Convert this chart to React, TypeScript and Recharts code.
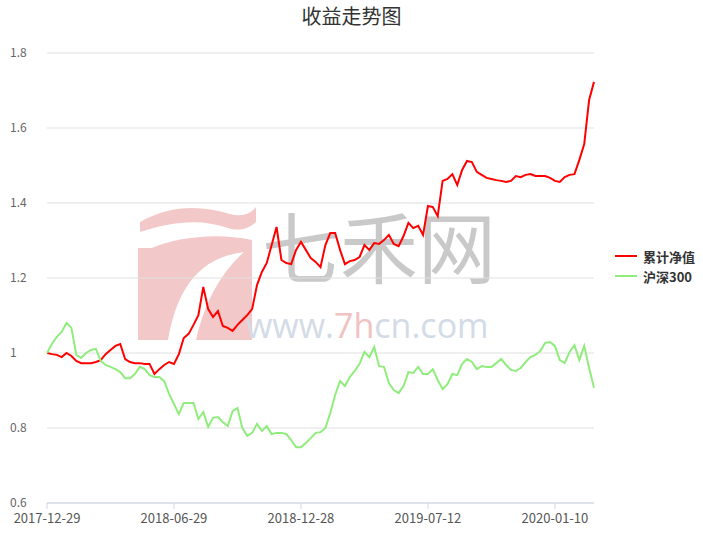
import React from 'react';
import { LineChart, Line, XAxis, YAxis, CartesianGrid } from 'recharts';

const dates = [
  '2017-12-29', '2018-01-05', '2018-01-12', '2018-01-19', '2018-01-26', '2018-02-02', '2018-02-09', '2018-02-14',
  '2018-02-23', '2018-03-02', '2018-03-09', '2018-03-16', '2018-03-23', '2018-03-30', '2018-04-04', '2018-04-13',
  '2018-04-20', '2018-04-27', '2018-05-04', '2018-05-11', '2018-05-18', '2018-05-25', '2018-06-01', '2018-06-08',
  '2018-06-15', '2018-06-22', '2018-06-29', '2018-07-06', '2018-07-13', '2018-07-20', '2018-07-27', '2018-08-03',
  '2018-08-10', '2018-08-17', '2018-08-24', '2018-08-31', '2018-09-07', '2018-09-14', '2018-09-21', '2018-09-28',
  '2018-10-05', '2018-10-12', '2018-10-19', '2018-10-26', '2018-11-02', '2018-11-09', '2018-11-16', '2018-11-23',
  '2018-11-30', '2018-12-07', '2018-12-14', '2018-12-21', '2018-12-28', '2019-01-04', '2019-01-11', '2019-01-18',
  '2019-01-25', '2019-02-01', '2019-02-15', '2019-02-22', '2019-03-01', '2019-03-08', '2019-03-15', '2019-03-22',
  '2019-03-29', '2019-04-04', '2019-04-12', '2019-04-19', '2019-04-26', '2019-05-10', '2019-05-17', '2019-05-24',
  '2019-05-31', '2019-06-06', '2019-06-14', '2019-06-21', '2019-06-28', '2019-07-05', '2019-07-12', '2019-07-19',
  '2019-07-26', '2019-08-02', '2019-08-09', '2019-08-16', '2019-08-23', '2019-08-30', '2019-09-06', '2019-09-12',
  '2019-09-20', '2019-09-27', '2019-09-30', '2019-10-11', '2019-10-18', '2019-10-25', '2019-11-01', '2019-11-08',
  '2019-11-15', '2019-11-22', '2019-11-29', '2019-12-06', '2019-12-13', '2019-12-20', '2019-12-27', '2020-01-03',
  '2020-01-10', '2020-01-17', '2020-01-23', '2020-02-07', '2020-02-14', '2020-02-21', '2020-02-28', '2020-03-06',
  '2020-03-13',
];

// 累计净值
const navValues = [
  1.000, 0.997, 0.995, 0.989, 1.000, 0.992, 0.979, 0.973, 0.973, 0.973, 0.976, 0.981, 0.997, 1.008, 1.019, 1.024,
  0.984, 0.976, 0.973, 0.973, 0.971, 0.971, 0.944, 0.957, 0.968, 0.976, 0.971, 0.997, 1.040, 1.051, 1.075, 1.101,
  1.176, 1.117, 1.096, 1.112, 1.072, 1.067, 1.059, 1.075, 1.088, 1.101, 1.117, 1.181, 1.216, 1.240, 1.288, 1.336,
  1.248, 1.240, 1.237, 1.275, 1.296, 1.275, 1.253, 1.243, 1.229, 1.288, 1.320, 1.320, 1.275, 1.237, 1.245, 1.248,
  1.256, 1.288, 1.275, 1.293, 1.291, 1.301, 1.315, 1.291, 1.285, 1.312, 1.347, 1.333, 1.339, 1.315, 1.392, 1.389,
  1.365, 1.459, 1.464, 1.477, 1.448, 1.488, 1.512, 1.509, 1.483, 1.475, 1.467, 1.464, 1.461, 1.459, 1.456, 1.459,
  1.472, 1.469, 1.475, 1.477, 1.472, 1.472, 1.472, 1.467, 1.459, 1.456, 1.469, 1.475, 1.477, 1.515, 1.557, 1.675,
  1.723,
];

// 沪深300 (normalised)
const hs300Values = [
  1.000, 1.024, 1.043, 1.056, 1.080, 1.067, 0.995, 0.987, 1.000, 1.008, 1.011, 0.979, 0.968, 0.963, 0.957, 0.949,
  0.933, 0.933, 0.944, 0.963, 0.957, 0.941, 0.936, 0.936, 0.925, 0.891, 0.864, 0.837, 0.867, 0.867, 0.867, 0.824,
  0.843, 0.803, 0.827, 0.829, 0.816, 0.805, 0.845, 0.853, 0.800, 0.779, 0.787, 0.811, 0.792, 0.805, 0.784, 0.787,
  0.787, 0.784, 0.768, 0.749, 0.749, 0.760, 0.773, 0.787, 0.789, 0.800, 0.840, 0.888, 0.925, 0.912, 0.936, 0.952,
  0.971, 1.003, 0.989, 1.016, 0.965, 0.963, 0.920, 0.901, 0.893, 0.912, 0.949, 0.947, 0.963, 0.944, 0.944, 0.957,
  0.928, 0.904, 0.917, 0.944, 0.941, 0.971, 0.984, 0.976, 0.957, 0.965, 0.963, 0.963, 0.973, 0.984, 0.968, 0.955,
  0.952, 0.960, 0.976, 0.989, 0.995, 1.005, 1.027, 1.029, 1.019, 0.981, 0.973, 1.003, 1.021, 0.981, 1.019, 0.960,
  0.907,
];

const yTicks = [0.6, 0.8, 1, 1.2, 1.4, 1.6, 1.8];

const seriesInfo = [
  { key: 'nav', name: '累计净值', color: '#ff0000' },
  { key: 'hs300', name: '沪深300', color: '#90ed7d' },
];

const data = dates.map((d, i) => ({ date: d, nav: navValues[i], hs300: hs300Values[i] }));

const FONT = '"Microsoft YaHei", "Noto Sans CJK SC", sans-serif';

function YTick(props: any) {
  const { y, payload } = props;
  return (
    <text x={10} y={y + 4} fill="#666" fontSize={12} fontFamily={FONT} textAnchor="start">
      {String(+Number(payload.value).toFixed(1))}
    </text>
  );
}

function LegendBox() {
  return (
    <div style={{ position: 'absolute', left: 615, top: 246, fontFamily: FONT, fontSize: 13, fontWeight: 'bold', color: '#333' }}>
      {seriesInfo.map((s) => (
        <div key={s.key} style={{ display: 'flex', alignItems: 'center', height: 20 }}>
          <span style={{ display: 'inline-block', width: 22, height: 2, background: s.color, marginRight: 6 }} />
          {s.name}
        </div>
      ))}
    </div>
  );
}

function Watermark() {
  return (
    <svg width={703} height={539} style={{ position: 'absolute', left: 0, top: 0 }}>
      <path d="M140 222 C170 205 200 205 230 214 C245 218 252 212 256 207 L256 222 C250 228 240 232 228 228 C200 218 170 222 140 232 Z" fill="#f3c8c8" />
      <path d="M138 248 L152 248 C175 238 215 232 252 240 L252 340 L196 340 C205 300 222 272 244 252 C215 256 180 270 168 340 L138 340 Z" fill="#f3c8c8" />
      <text x={262} y={278} fontSize={78} fill="#c9c9c9" fontFamily={FONT}>七禾网</text>
      <text x={246} y={338} fontSize={34} fill="#d3dbe6" fontFamily="'Open Sans', sans-serif">
        www.<tspan fill="#f0c2c2">7h</tspan>cn.com
      </text>
    </svg>
  );
}

export default function App() {
  return (
    <div style={{ position: 'absolute', left: 0, top: 0, width: 703, height: 539, background: '#fff' }}>
      <Watermark />
      <div style={{ position: 'absolute', left: 0, top: 0, width: 703, textAlign: 'center', fontFamily: FONT, fontSize: 20, color: '#333', lineHeight: '32px' }}>
        收益走势图
      </div>
      <div style={{ position: 'absolute', left: 0, top: 0 }}>
        <LineChart width={703} height={539} data={data} margin={{ top: 53, right: 109, bottom: 6, left: 7 }}>
          <CartesianGrid vertical={false} stroke="#e0e0e0" />
          <XAxis
            dataKey="date"
            interval={25}
            axisLine={{ stroke: '#ccd6eb' }}
            tickLine={{ stroke: '#ccd6eb' }}
            tickSize={6}
            tick={{ fill: '#555', fontSize: 13, fontFamily: FONT, dy: 3 }}
            height={30}
          />
          <YAxis
            domain={[0.6, 1.8]}
            ticks={yTicks}
            width={40}
            axisLine={false}
            tickLine={false}
            tick={<YTick />}
          />
          {seriesInfo.map((s) => (
            <Line
              key={s.key}
              type="linear"
              dataKey={s.key}
              name={s.name}
              stroke={s.color}
              strokeWidth={2}
              dot={false}
              isAnimationActive={false}
            />
          ))}
        </LineChart>
      </div>
      <LegendBox />
    </div>
  );
}
